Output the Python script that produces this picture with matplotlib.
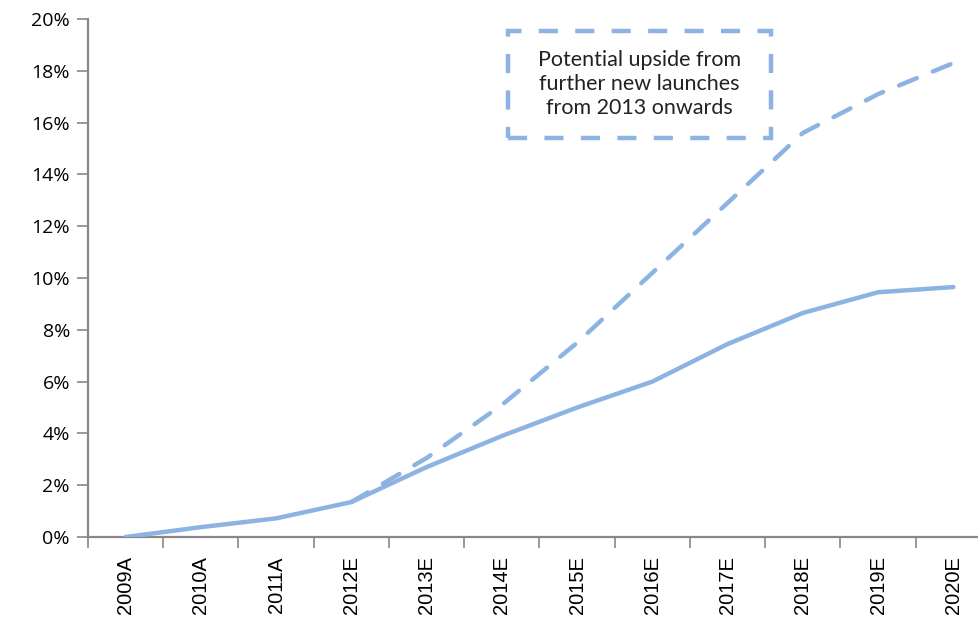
import matplotlib.pyplot as plt
import numpy as np
from matplotlib.patches import FancyBboxPatch
from matplotlib.ticker import FixedLocator, FuncFormatter

years = ['2009A', '2010A', '2011A', '2012E', '2013E', '2014E',
         '2015E', '2016E', '2017E', '2018E', '2019E', '2020E']
base_share = [0.0, 0.38, 0.72, 1.35, 2.7, 3.9, 5.0, 6.0, 7.45, 8.65, 9.45, 9.65]
upside_years = years[3:]
upside_share = [1.35, 3.05, 5.1, 7.5, 10.2, 12.9, 15.6, 17.1, 18.3]

blue = '#8db3e2'
grey = '#888888'

fig = plt.figure(figsize=(9.79, 6.2), dpi=100)
ax = fig.add_axes([88 / 979, 1 - 537 / 620, 903 / 979, 518 / 620])

x = np.arange(len(years))
xu = np.arange(3, len(years))

ax.plot(x, base_share, color=blue, lw=3.2, solid_capstyle='round', zorder=3)
ax.plot(xu, upside_share, color=blue, lw=3.2, dashes=(4.3, 3.9),
        dash_capstyle='round', zorder=3)

ax.set_xlim(-0.5, len(years) - 0.5)
ax.set_ylim(0, 20)

ax.set_xticks(x)
ax.set_xticklabels(years, rotation=90, fontsize=14.5, family='Liberation Sans',
                   va='top')
ax.xaxis.set_minor_locator(FixedLocator(np.arange(-0.5, len(years), 1)))
ax.tick_params(axis='x', which='major', length=0, pad=14)
ax.tick_params(axis='x', which='minor', length=8, width=1.2, color=grey,
               direction='out')

ax.set_yticks(np.arange(0, 21, 2))
ax.yaxis.set_major_formatter(FuncFormatter(lambda v, _: f'{v:.0f}%'))
ax.tick_params(axis='y', length=8, width=1.2, color=grey, direction='out',
               labelsize=14, pad=5)
for lab in ax.get_yticklabels():
    lab.set_family('Open Sans')

for side in ('top', 'right'):
    ax.spines[side].set_visible(False)
for side in ('left', 'bottom'):
    ax.spines[side].set_color(grey)
    ax.spines[side].set_linewidth(1.6)

# dashed callout box
box = FancyBboxPatch((5.08, 15.4), 3.5, 4.15, boxstyle='square,pad=0',
                     fill=False, edgecolor=blue, lw=3.2, linestyle=(0, (4.3, 3.9)),
                     zorder=4)
ax.add_patch(box)
ax.text(6.83, 17.5, 'Potential upside from\nfurther new launches\nfrom 2013 onwards',
        ha='center', va='center', fontsize=15.5, family='Lato',
        linespacing=1.25, color='#222222', zorder=5)

fig.savefig('out.png', dpi=100)
